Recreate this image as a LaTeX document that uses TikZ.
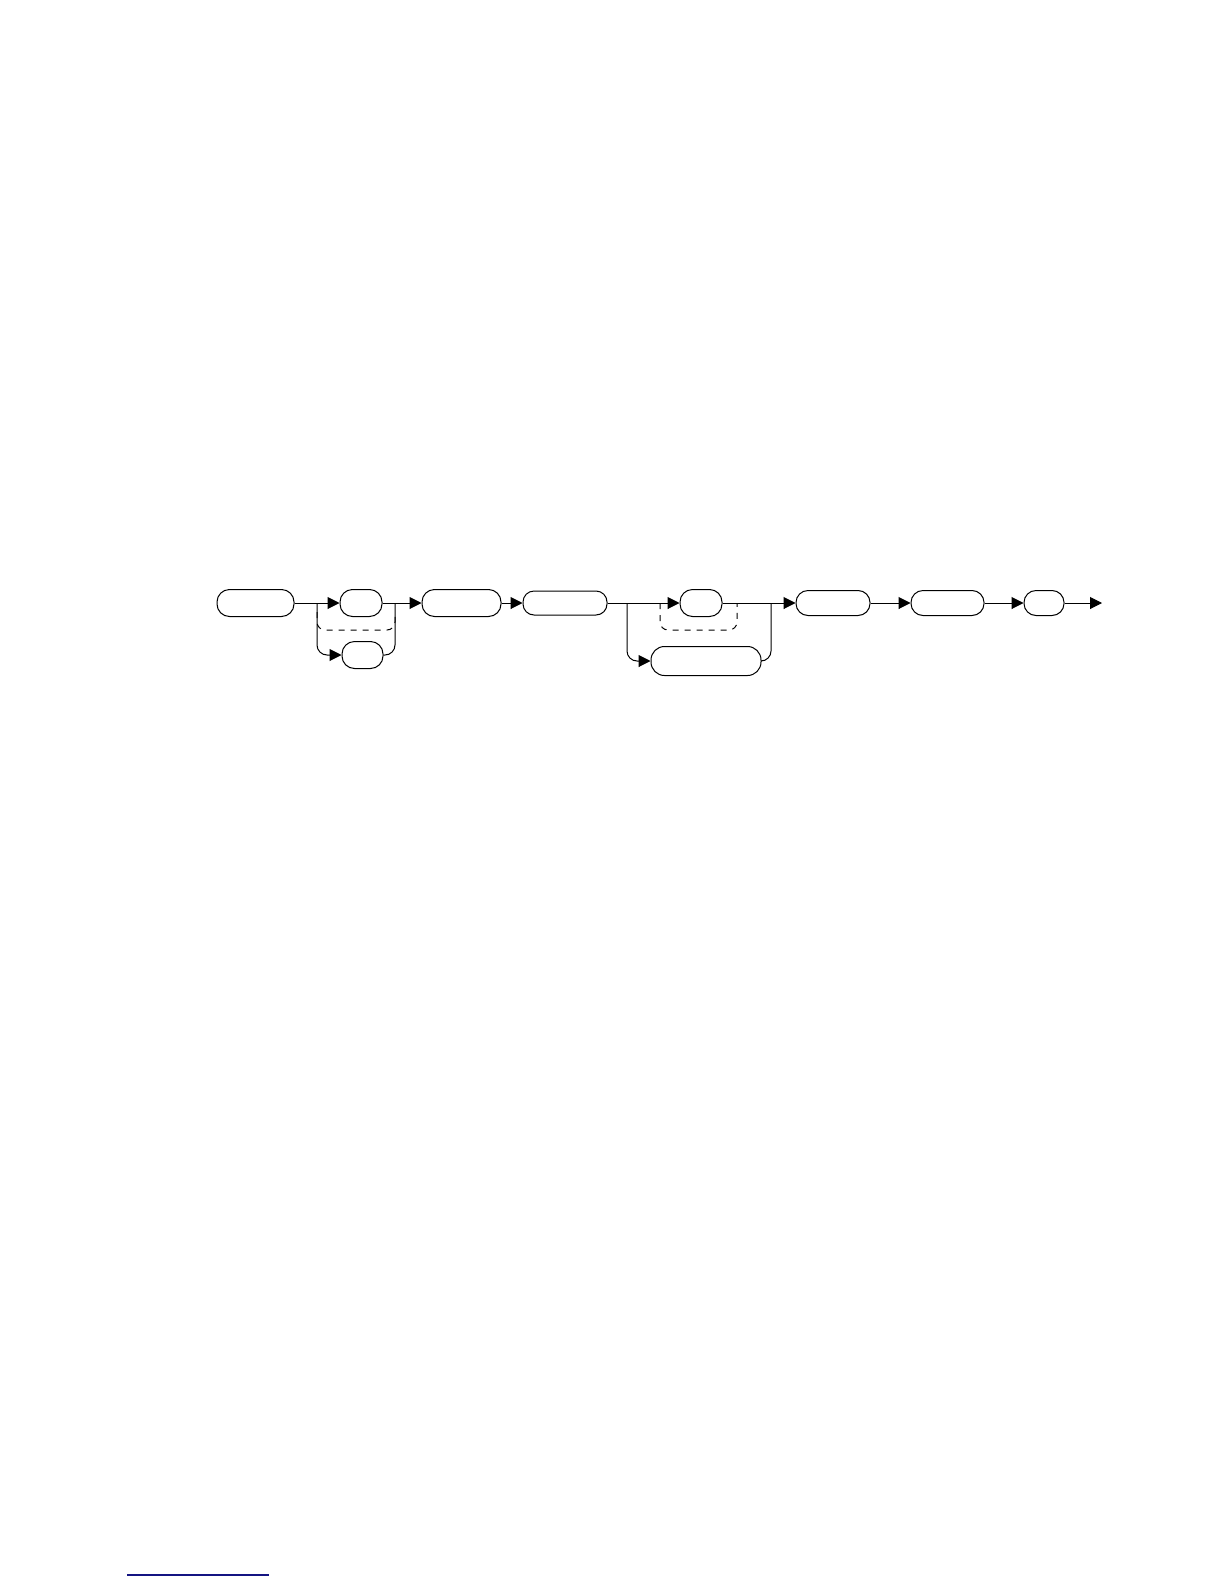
\documentclass[tikz,border=0pt]{standalone}
\usetikzlibrary{arrows.meta}
\definecolor{footblue}{RGB}{20,20,130}
\begin{document}
\begin{tikzpicture}[x=1pt,y=-1pt,
  line width=1pt,
  term/.style={draw, rectangle, rounded corners=12.5pt, inner sep=0pt, minimum height=27pt},
  arr/.style={-{Triangle[length=12pt,width=12pt]}},
  loopdash/.style={dashed, dash pattern=on 6pt off 6pt, rounded corners=8pt},
  roundbend/.style={rounded corners=10pt}]
\useasboundingbox (0,0) rectangle (1224,1584);
% nodes
\node[term, minimum width=77pt] (A) at (255.5,603) {};
\node[term, minimum width=42pt] (B) at (361,603) {};
\node[term, minimum width=41pt] (C) at (362.5,655) {};
\node[term, minimum width=79pt] (D) at (461.5,603) {};
\node[term, minimum width=84pt, minimum height=24pt, rounded corners=11pt] (E) at (565,603) {};
\node[term, minimum width=42pt] (F) at (701,603) {};
\node[term, minimum width=110pt, minimum height=29pt, rounded corners=13.5pt] (G) at (706,661) {};
\node[term, minimum width=74pt, minimum height=25pt, rounded corners=12pt] (H) at (833,603) {};
\node[term, minimum width=73pt, minimum height=25pt, rounded corners=12pt] (I) at (947.5,603) {};
\node[term, minimum width=40pt, minimum height=25pt, rounded corners=12pt] (J) at (1044,603) {};
\coordinate (s1) at (317,603);
\coordinate (j1) at (395,603);
\coordinate (s2) at (627,603);
\coordinate (j2) at (771,603);
\coordinate (endp) at (1102,603);
% first choice
\draw (A.east) -- (s1);
\draw[arr] (s1) -- (B.west);
\draw[arr, roundbend] (s1) |- (C.west);
\draw (B.east) -- (j1);
\draw[roundbend] (C.east) -| (j1);
\draw[arr] (j1) -- (D.west);
\draw[loopdash] (317,612) -- (317,630) -- (395,630) -- (395,612);
% sequence
\draw[arr] (D.east) -- (E.west);
% second choice
\draw (E.east) -- (s2);
\draw[arr] (s2) -- (F.west);
\draw[arr, roundbend] (s2) |- (G.west);
\draw (F.east) -- (j2);
\draw[roundbend] (G.east) -| (j2);
\draw[loopdash] (660,603) -- (660,630) -- (737,630) -- (737,603);
\draw[arr] (j2) -- (H.west);
\draw[arr] (H.east) -- (I.west);
\draw[arr] (I.east) -- (J.west);
\draw[arr] (J.east) -- (endp);
% footer rule
\draw[footblue, line width=1.2pt] (127,1575) -- (269,1575);
\end{tikzpicture}
\end{document}
